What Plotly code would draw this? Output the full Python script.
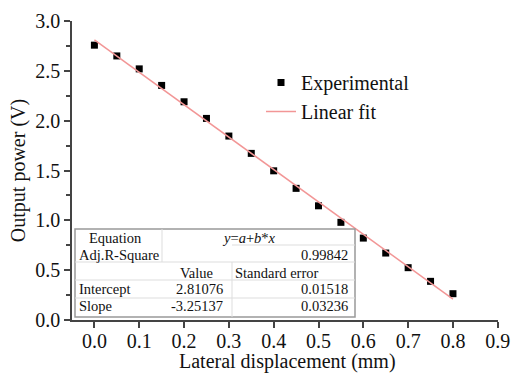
import plotly.graph_objects as go

# Data
x_exp = [0.0, 0.05, 0.10, 0.15, 0.20, 0.25, 0.30, 0.35, 0.40, 0.45, 0.50, 0.55, 0.60, 0.65, 0.70, 0.75, 0.80]
y_exp = [2.758, 2.650, 2.520, 2.354, 2.190, 2.023, 1.846, 1.672, 1.497, 1.321, 1.146, 0.980, 0.822, 0.672, 0.525, 0.388, 0.264]
intercept = 2.81076
slope = -3.25137
intercept_err = 0.01518
slope_err = 0.03236
adj_r2 = 0.99842
fit_x = [0.0, 0.8]
fit_y = [intercept + slope * v for v in fit_x]

x_ticks = [0.0, 0.1, 0.2, 0.3, 0.4, 0.5, 0.6, 0.7, 0.8, 0.9]
y_ticks = [0.0, 0.5, 1.0, 1.5, 2.0, 2.5, 3.0]

FONT = "Liberation Serif"
W, H = 512, 374
ML, MR, MT, MB = 72, 14, 21, 54
PW = W - ML - MR
PH = H - MT - MB


def px(x):
    return (x - ML) / PW


def py(y):
    return (H - MB - y) / PH


fig = go.Figure()
fig.add_trace(go.Scatter(
    x=x_exp, y=y_exp, mode="markers", name="Experimental",
    marker=dict(symbol="square", size=7, color="black"),
))
fig.add_trace(go.Scatter(
    x=fit_x, y=fit_y, mode="lines", name="Linear fit",
    line=dict(color="rgb(242,150,150)", width=1.5),
))

axis_common = dict(
    showgrid=False, zeroline=False, showline=True, linecolor="#444", linewidth=1.5,
    ticks="outside", ticklen=6, tickwidth=1.5, tickcolor="#444",
    tickfont=dict(family=FONT, size=20, color="#111"),
    automargin=False, ticklabeloverflow="allow",
)
fig.update_xaxes(
    range=[-0.05, 0.9005], tickvals=x_ticks, ticktext=[f"{v:.1f}" for v in x_ticks],
    ticklabelstandoff=-4,
    **axis_common,
)
fig.update_yaxes(
    range=[0, 3.0005], tickvals=y_ticks, ticktext=[f"{v:.1f}" for v in y_ticks],
    title=dict(text="Output power (V)", font=dict(family=FONT, size=20, color="#111"), standoff=4),
    minor=dict(ticks="outside", ticklen=4, tickwidth=1.5, tickcolor="#444", dtick=0.25),
    **axis_common,
)

# x-axis title as an annotation so it sits exactly below the tick labels
fig.add_annotation(text="Lateral displacement (mm)", xref="paper", yref="paper",
                   x=px(287), y=py(361), xanchor="center", yanchor="middle", showarrow=False,
                   font=dict(family=FONT, size=20, color="#111"))

# Table
shapes = []
TL, TR, TT, TB = 75, 355, 229, 317
shapes.append(dict(type="rect", xref="paper", yref="paper", x0=px(TL), x1=px(TR), y0=py(TB), y1=py(TT),
                   fillcolor="white", line=dict(color="#999", width=1.5), layer="above"))
grid = dict(color="#ddd", width=1)
for yy in [262, 280, 298]:
    shapes.append(dict(type="line", xref="paper", yref="paper", x0=px(TL), x1=px(TR), y0=py(yy), y1=py(yy), line=grid, layer="above"))
shapes.append(dict(type="line", xref="paper", yref="paper", x0=px(232), x1=px(TR), y0=py(245), y1=py(245), line=grid, layer="above"))
shapes.append(dict(type="line", xref="paper", yref="paper", x0=px(162), x1=px(162), y0=py(262), y1=py(TT), line=grid, layer="above"))
shapes.append(dict(type="line", xref="paper", yref="paper", x0=px(232), x1=px(232), y0=py(TB), y1=py(262), line=grid, layer="above"))
fig.update_layout(shapes=shapes)

tf = dict(family=FONT, size=14.5, color="#111")


def cell(text, x, y, anchor):
    fig.add_annotation(text=text, xref="paper", yref="paper", x=px(x), y=py(y),
                       xanchor=anchor, yanchor="middle", showarrow=False, font=tf)


cell("Equation", 115, 238, "center")
cell("<i>y</i>=<i>a</i>+<i>b</i>*<i>x</i>", 249, 238, "center")
cell("Adj.R-Square", 77, 255, "left")
cell(f"{adj_r2:.5f}", 350, 255, "right")
cell("Value", 196, 273, "center")
cell("Standard error", 233, 273, "left")
cell("Intercept", 77, 289, "left")
cell(f"{intercept:.5f}", 225, 289, "right")
cell(f"{intercept_err:.5f}", 350, 289, "right")
cell("Slope", 77, 306, "left")
cell(f"{slope:.5f}", 225, 306, "right")
cell(f"{slope_err:.5f}", 350, 306, "right")

fig.update_layout(
    width=W, height=H,
    margin=dict(l=ML, r=MR, t=MT, b=MB),
    paper_bgcolor="white", plot_bgcolor="white",
    showlegend=True,
    legend=dict(x=px(261), y=py(63), xanchor="left", yanchor="top",
                bgcolor="rgba(0,0,0,0)", font=dict(family=FONT, size=20, color="#111"),
                tracegroupgap=0),
)

fig.write_html("out.html")
